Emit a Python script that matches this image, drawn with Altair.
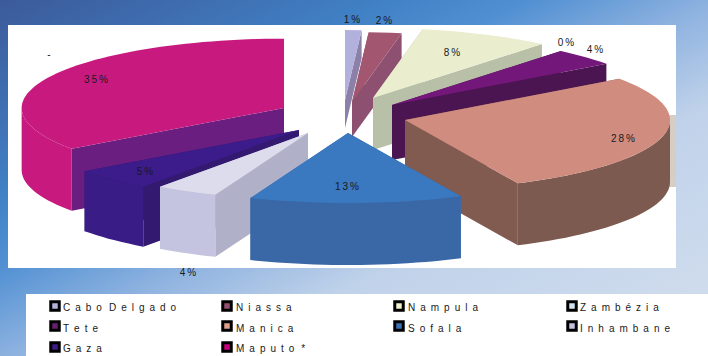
import math
import altair as alt
import pandas as pd

# Provincial shares, clockwise from twelve o'clock
provinces = ["Cabo Delgado", "Niassa", "Nampula", "Zambézia", "Tete",
             "Manica", "Sofala", "Inhambane", "Gaza", "Maputo *"]
shares = [1, 2, 8, 0, 4, 28, 13, 4, 5, 35]

# Slice styling: top face, outer wall, cut face, legend swatch
top_colors = ["#b2b0dc", "#a2566f", "#eaedce", "#d5e4f0", "#74177a",
              "#d18c80", "#3a78bf", "#dcdcec", "#3b1c8a", "#c8197f"]
wall_colors = ["#8c80a8", "#8e5070", "#b8c0a8", "#b0c0d0", "#4a1550",
               "#7d5a50", "#3a68a6", "#c4c4e0", "#3a1c87", "#c8197f"]
cut_colors = ["#8c80a8", "#8e5070", "#b8c0a8", "#b0c0d0", "#4a1550",
              "#815a50", "#3a68a6", "#b0b0c8", "#33196f", "#6a1e80"]
swatch_colors = ["#b4b2dc", "#95506f", "#f2f2cc", "#cfe3f2", "#66206f",
                 "#e0a08e", "#3a70b5", "#c4c2e0", "#3d1c88", "#c8007a"]

# Pie projection and per-slice explosion
RX, RY = 265, 70
radius_scale = [1, 1, 1, 1, 1, 1, 1, 0.95, 1, 0.99]
apex_x = [345, 352, 373, 380, 392, 405, 348, 308, 299, 284]
apex_y = [100, 102, 98, 100, 105, 120, 133, 133, 130, 108]
depth = [28, 35, 52, 40, 55, 62, 62, 62, 60, 62]
paint_order = [0, 1, 2, 3, 4, 9, 5, 8, 7, 6]

# Percentage label anchors, same order as provinces
label_x = [352, 384, 452, 566, 595, 623, 347, 188, 145, 96]
label_y = [20, 21, 53, 43, 50, 139, 187, 273, 172, 80]

# Legend grid
legend_cols = [55, 227, 399, 572]
legend_text_cols = [63, 236, 408, 580]
legend_rows = [306, 326, 347]
legend_text_rows = [307.5, 328.5, 349]


def rim(i, theta, drop=0):
    a = math.radians(theta)
    k = radius_scale[i]
    return [apex_x[i] + k * RX * math.sin(a), apex_y[i] - k * RY * math.cos(a) + drop]


def poly(points, fill):
    ring = [list(p) for p in points] + [list(points[0])]
    return {"type": "Feature", "properties": {"fill": fill},
            "geometry": {"type": "Polygon", "coordinates": [ring]}}


def arc_points(i, a0, a1, drop=0):
    n = max(2, int(abs(a1 - a0) / 2) + 1)
    return [rim(i, a0 + (a1 - a0) * k / (n - 1), drop) for k in range(n)]


def slice_faces(i, a0, a1):
    faces = []
    t = depth[i]
    ax, ay = apex_x[i], apex_y[i]
    for edge in (a0, a1):
        p = rim(i, edge)
        q = rim(i, edge, t)
        faces.append(poly([[ax, ay], p, q, [ax, ay + t]], cut_colors[i]))
    lo, hi = max(a0, 90), min(a1, 270)
    if hi > lo:
        faces.append(poly(arc_points(i, lo, hi) + arc_points(i, hi, lo, t), wall_colors[i]))
    faces.append(poly([[ax, ay]] + arc_points(i, a0, a1), top_colors[i]))
    return faces


spans = []
running = 0
for s in shares:
    spans.append((running * 3.6, (running + s) * 3.6))
    running += s

features = []
for i in paint_order:
    if shares[i] > 0:
        features.extend(slice_faces(i, *spans[i]))


def tracked(text, gap):
    # Letter-spaced text: wide gaps inside a word, one slightly wider gap between words
    return (gap + "\u2009").join(gap.join(word) for word in text.split(" "))


X = alt.X("x:Q", scale=alt.Scale(domain=[0, 708], range=[0, 708]), axis=None)
Y = alt.Y("y:Q", scale=alt.Scale(domain=[0, 356], range=[0, 356]), axis=None)

backdrop = alt.Chart(alt.Data(values=[{"a": 1}])).mark_rect(
    color=alt.Gradient(
        gradient="linear", x1=0, y1=0, x2=1, y2=1,
        stops=[
            alt.GradientStop(offset=0, color="#3c5a9a"),
            alt.GradientStop(offset=0.27, color="#4080c4"),
            alt.GradientStop(offset=0.37, color="#4f8fd2"),
            alt.GradientStop(offset=0.51, color="#8fb3e0"),
            alt.GradientStop(offset=0.65, color="#c0d2ea"),
            alt.GradientStop(offset=1, color="#d4dfee"),
        ],
    )
).encode(x=alt.value(0), x2=alt.value(708), y=alt.value(0), y2=alt.value(356))

panels = pd.DataFrame({
    "x": [8, 26, 667], "x2": [676, 708, 676],
    "y": [25, 294, 115], "y2": [268, 356, 187],
    "fill": ["#ffffff", "#ffffff", "#d6cdc5"],
})
panel_layer = alt.Chart(panels).mark_rect().encode(
    x=X, x2="x2:Q", y=Y, y2="y2:Q", color=alt.Color("fill:N", scale=None)
)

pie = alt.Chart(alt.Data(values=features)).mark_geoshape(strokeWidth=0).encode(
    color=alt.Color("properties.fill:N", scale=None)
).project(type="identity", scale=1, translate=[0, 0])

labels = pd.DataFrame({
    "x": label_x + [49],
    "y": label_y + [55],
    "t": [tracked(f"{s}%", "\u2009") for s in shares] + ["-"],
})
label_layer = alt.Chart(labels).mark_text(
    font="Liberation Sans", fontSize=10, color="#1a1a1a"
).encode(x=X, y=Y, text="t:N")

legend = pd.DataFrame({
    "x": [legend_cols[k % 4] for k in range(10)],
    "y": [legend_rows[k // 4] for k in range(10)],
    "tx": [legend_text_cols[k % 4] for k in range(10)],
    "ty": [legend_text_rows[k // 4] for k in range(10)],
    "name": [tracked(p, "\u2002") for p in provinces],
    "fill": swatch_colors,
})
swatches = alt.Chart(legend).mark_point(
    shape="square", filled=True, size=72, stroke="#000000", strokeWidth=3, opacity=1
).encode(x=X, y=Y, fill=alt.Fill("fill:N", scale=None))
legend_text = alt.Chart(legend).mark_text(
    font="Liberation Sans", fontSize=10, align="left", color="#1a1a1a"
).encode(
    x=alt.X("tx:Q", scale=alt.Scale(domain=[0, 708], range=[0, 708]), axis=None),
    y=alt.Y("ty:Q", scale=alt.Scale(domain=[0, 356], range=[0, 356]), axis=None),
    text="name:N",
)

chart = alt.layer(backdrop, panel_layer, pie, label_layer, swatches, legend_text).properties(
    width=708, height=356, padding=0, autosize=alt.AutoSizeParams(type="none")
).configure_view(stroke=None)

chart.save("out.html", embed_options={"renderer": "svg", "actions": False})
